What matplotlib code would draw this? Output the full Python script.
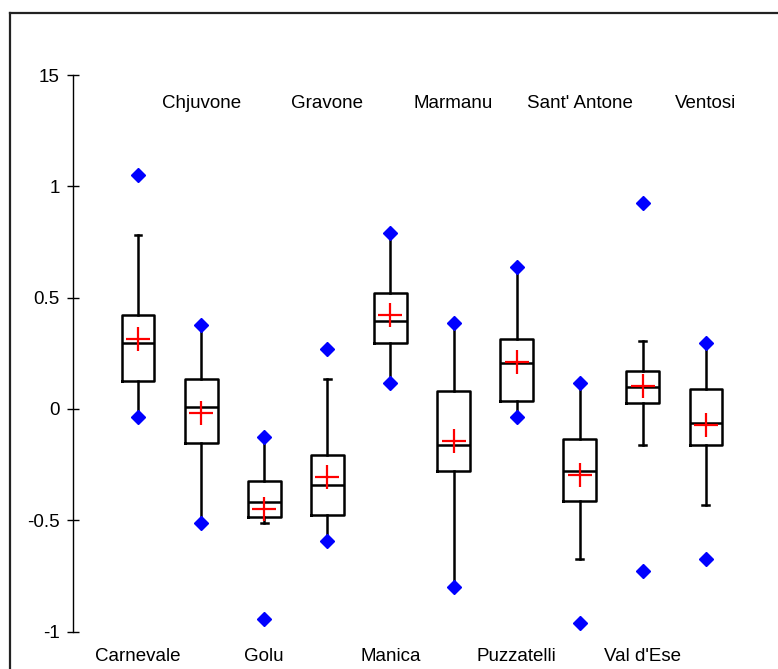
import matplotlib
matplotlib.use("Agg")
import matplotlib.pyplot as plt
from matplotlib.lines import Line2D

plt.rcParams['font.family'] = ['Liberation Sans', 'DejaVu Sans']

# Values
names = ["Carnevale", "Chjuvone", "Golu", "Gravone", "Manica",
         "Marmanu", "Puzzatelli", "Sant' Antone", "Val d'Ese", "Ventosi"]
q1 = [0.127, -0.154, -0.484, -0.476, 0.296, -0.279, 0.036, -0.413, 0.027, -0.162]
med = [0.298, 0.010, -0.420, -0.341, 0.397, -0.162, 0.207, -0.279, 0.099, -0.061]
q3 = [0.422, 0.135, -0.323, -0.205, 0.522, 0.081, 0.316, -0.135, 0.171, 0.090]
mean = [0.314, -0.018, -0.449, -0.304, 0.422, -0.142, 0.210, -0.296, 0.102, -0.072]
whislo = [-0.037, -0.512, -0.511, -0.594, 0.117, -0.801, -0.037, -0.674, -0.162, -0.431]
whishi = [0.780, 0.379, -0.124, 0.135, 0.792, 0.386, 0.639, 0.118, 0.305, 0.296]
vmin = [-0.037, -0.512, -0.943, -0.594, 0.117, -0.801, -0.037, -0.963, -0.728, -0.674]
vmax = [1.051, 0.379, -0.124, 0.270, 0.792, 0.386, 0.639, 0.118, 0.924, 0.296]

yticks = [-1, -0.5, 0, 0.5, 1, 1.5]
yticklabels = ["-1", "-0.5", "0", "0.5", "1", "15"]

stats = []
for i in range(len(names)):
    stats.append(dict(label=names[i], q1=q1[i], med=med[i], q3=q3[i], mean=mean[i],
                      whislo=whislo[i], whishi=whishi[i], fliers=[vmin[i], vmax[i]]))

fig = plt.figure(figsize=(7.78, 6.69), dpi=100)
ax = fig.add_axes([0, 0, 1, 1])
pos = list(range(1, len(names) + 1))

ax.bxp(stats, positions=pos, widths=0.52, showmeans=True, capwidths=0.11,
       boxprops=dict(color='black', linewidth=1.8),
       medianprops=dict(color='black', linewidth=1.8),
       whiskerprops=dict(color='black', linewidth=1.8),
       capprops=dict(color='black', linewidth=1.8),
       meanprops=dict(marker='+', markeredgecolor='red', markersize=17,
                      markeredgewidth=1.6),
       flierprops=dict(marker='D', markerfacecolor='#0000FF', markeredgecolor='#0000FF',
                       markersize=7.5, zorder=5))

ax.set_xlim(-1.187, 11.142)
ax.set_ylim(-1.168, 1.837)

for s in ['top', 'right', 'bottom']:
    ax.spines[s].set_visible(False)
ax.spines['left'].set_position(('data', -0.03))
ax.spines['left'].set_bounds(-1, 1.5)
ax.spines['left'].set_linewidth(1.0)
ax.set_yticks(yticks)
ax.set_yticklabels(yticklabels)
ax.tick_params(axis='y', direction='inout', length=9, width=1.0, labelsize=13.5, pad=5)
ax.set_xticks([])
ax.patch.set_visible(False)

# alternate the category labels bottom / top
for i, n in enumerate(names):
    if i % 2 == 0:
        ax.text(pos[i], -1.114, n, ha='center', va='center', fontsize=13.5)
    else:
        ax.text(pos[i], 1.37, n, ha='center', va='center', fontsize=13.5)

# outer frame (top and left edges visible)
fig.add_artist(Line2D([10 / 778, 1], [1 - 13 / 669, 1 - 13 / 669],
                      transform=fig.transFigure, color='#222222', linewidth=1.6))
fig.add_artist(Line2D([10 / 778, 10 / 778], [0, 1 - 13 / 669],
                      transform=fig.transFigure, color='#222222', linewidth=1.6))

fig.savefig("out.png", dpi=100, facecolor='white')
